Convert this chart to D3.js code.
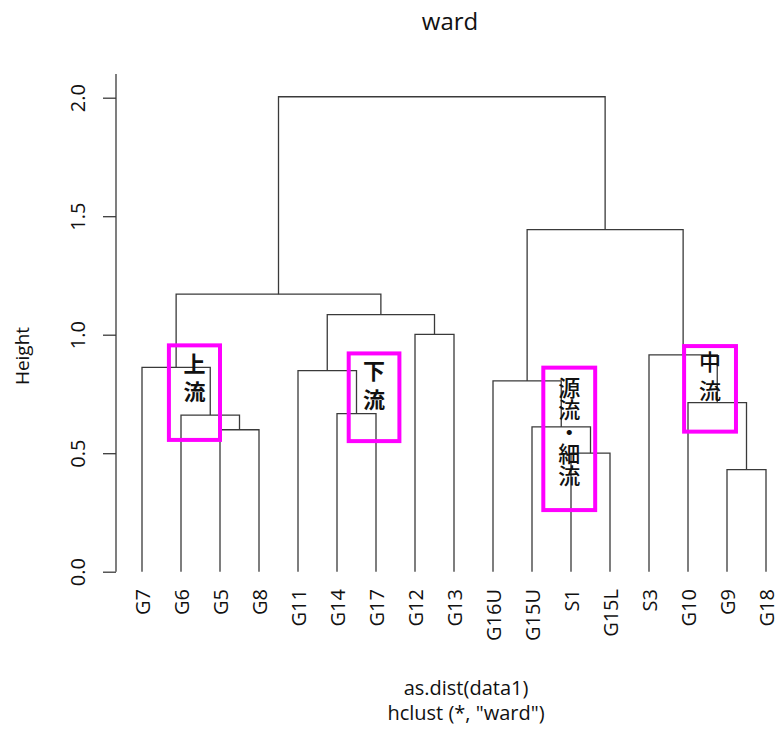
<!DOCTYPE html>
<html>
<head>
<meta charset="utf-8">
<script src="https://cdn.jsdelivr.net/npm/d3@7"></script>
<style>
  body { margin: 0; background: #fff; }
  svg { display: block; }
  text { font-family: "Open Sans", "DejaVu Sans", sans-serif; fill: #111; }
</style>
</head>
<body>
<svg id="chart" width="781" height="731"></svg>
<script>
// Leaf order along the x axis
const leaves = ["G7", "G6", "G5", "G8", "G11", "G14", "G17", "G12", "G13",
                "G16U", "G15U", "S1", "G15L", "S3", "G10", "G9", "G18"];

// Merge steps (hclust style): negative = leaf (1-based index into leaves), positive = earlier merge
const mergeLeft  = [-16, -12, -3, -11, -2, -6, -15, -10, -5, -1, -14, -8, 9, 10, 8, 14];
const mergeRight = [-17, -13, -4,   2,  3, -7,   1,   4,  6,  5,   7, -9, 12, 13, 11, 15];
const mergeHeight = [0.431, 0.500, 0.599, 0.611, 0.661, 0.667, 0.713, 0.805,
                     0.848, 0.862, 0.915, 1.001, 1.085, 1.171, 1.443, 2.004];

// Y axis ticks
const yTicks = [0, 0.5, 1.0, 1.5, 2.0];

// Cluster annotations (rectangles with vertical labels)
const groupNames    = ["上流", "下流", "源流・細流", "中流"];
const groupLeafFrom = [0.69, 5.30, 10.29, 13.90];
const groupLeafTo   = [2.00, 6.60, 11.62, 15.23];
const groupTop      = [0.955, 0.921, 0.861, 0.952];
const groupBottom   = [0.556, 0.551, 0.260, 0.591];
const groupBold     = [true, true, false, false];

const svg = d3.select("#chart");

const x = d3.scalePoint().domain(leaves).range([142, 766]);
const xi = d3.scaleLinear().domain([0, leaves.length - 1]).range([142, 766]);
const y = d3.scaleLinear().domain([0, 2]).range([571.7, 97.7]);

// Resolve node positions: each merge sits midway between its two children
const nodeX = [], nodeH = [];
function childPos(ref) {
  if (ref < 0) return { x: x(leaves[-ref - 1]), h: 0 };
  return { x: nodeX[ref - 1], h: nodeH[ref - 1] };
}
const segs = [];
mergeHeight.forEach((h, i) => {
  const a = childPos(mergeLeft[i]);
  const b = childPos(mergeRight[i]);
  nodeX.push((a.x + b.x) / 2);
  nodeH.push(h);
  segs.push([[a.x, y(a.h)], [a.x, y(h)], [b.x, y(h)], [b.x, y(b.h)]]);
});

svg.append("g")
  .selectAll("path")
  .data(segs)
  .join("path")
  .attr("d", d => d3.line()(d))
  .attr("fill", "none")
  .attr("stroke", "#3a3a3a")
  .attr("stroke-width", 1.3);

// Y axis
const axisG = svg.append("g").attr("transform", "translate(116,0)");
axisG.call(d3.axisLeft(y).tickValues(yTicks).tickFormat(d3.format(".1f")).tickSize(13).tickSizeOuter(0));
axisG.select(".domain").remove();
axisG.append("line")
  .attr("x1", 0).attr("x2", 0)
  .attr("y1", y(0)).attr("y2", y(2.1))
  .attr("stroke", "#3a3a3a").attr("stroke-width", 1.3);
axisG.selectAll(".tick line").attr("stroke", "#3a3a3a").attr("stroke-width", 1.3);
axisG.selectAll(".tick text")
  .attr("x", 0).attr("dy", null)
  .attr("transform", "translate(-39,0) rotate(-90)")
  .attr("text-anchor", "middle")
  .attr("dominant-baseline", "central")
  .attr("fill", "#111")
  .style("font-family", "'Open Sans', sans-serif")
  .style("font-size", "20px");

// Leaf labels
svg.append("g")
  .selectAll("text")
  .data(leaves)
  .join("text")
  .attr("transform", d => `translate(${x(d)},589) rotate(-90)`)
  .attr("text-anchor", "end")
  .attr("dominant-baseline", "central")
  .style("font-size", "20px")
  .text(d => d);

// Titles
svg.append("text").attr("x", 450).attr("y", 20)
  .attr("text-anchor", "middle").attr("dominant-baseline", "central")
  .style("font-size", "24px").text("ward");
svg.append("text")
  .attr("transform", "translate(22,356) rotate(-90)")
  .attr("text-anchor", "middle").attr("dominant-baseline", "central")
  .style("font-size", "19px").text("Height");
svg.append("text").attr("x", 466).attr("y", 687)
  .attr("text-anchor", "middle").attr("dominant-baseline", "central")
  .style("font-size", "20px").text("as.dist(data1)");
svg.append("text").attr("x", 466).attr("y", 712)
  .attr("text-anchor", "middle").attr("dominant-baseline", "central")
  .style("font-size", "20px").text('hclust (*, "ward")');

// Group annotations: magenta frame plus a label set in vertical writing
const cjkSize = 22;
const charStep = [28, 28.5, 22, 29];
const firstCenter = [18, 17.7, 19.8, 15.7];
const ann = svg.append("g");
groupNames.forEach((name, i) => {
  const x0 = xi(groupLeafFrom[i]), x1 = xi(groupLeafTo[i]);
  const y0 = y(groupTop[i]), y1 = y(groupBottom[i]);
  ann.append("rect")
    .attr("x", x0).attr("y", y0)
    .attr("width", x1 - x0).attr("height", y1 - y0)
    .attr("fill", "none").attr("stroke", "#ff00ff").attr("stroke-width", 4);

  ann.append("text")
    .attr("x", (x0 + x1) / 2)
    .attr("y", y0 + firstCenter[i] - cjkSize / 2)
    .style("writing-mode", "vertical-rl")
    .style("text-orientation", "upright")
    .style("letter-spacing", `${charStep[i] - cjkSize}px`)
    .style("font-family", "'Noto Sans CJK JP', sans-serif")
    .style("font-weight", groupBold[i] ? "bold" : "500")
    .style("font-size", `${cjkSize}px`)
    .text(name);
});
</script>
</body>
</html>
